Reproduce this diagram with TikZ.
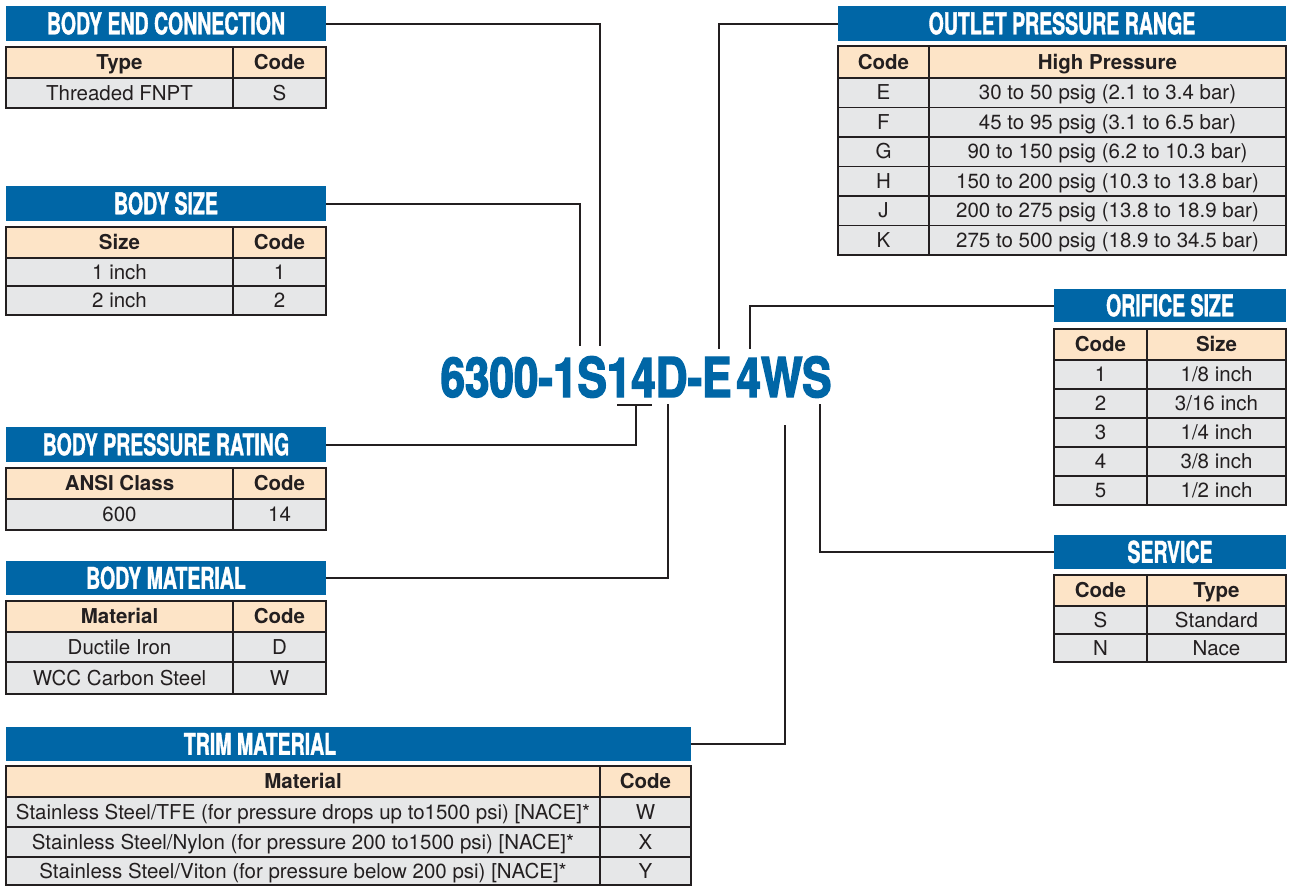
\documentclass[tikz,border=0pt]{standalone}
\usepackage{fontspec}
\setmainfont{TeX Gyre Heros}
\newfontfamily\titlefont{TeX Gyre Heros}[FakeStretch=0.65,FakeBold=1.2]
\newfontfamily\codefont{TeX Gyre Heros}[FakeStretch=0.8,FakeBold=2.5]
\definecolor{tblue}{HTML}{0066A6}
\definecolor{peach}{HTML}{FDE4C7}
\definecolor{rowg}{HTML}{E6E7E8}
\definecolor{lc}{HTML}{231F20}
\tikzset{
  cellbase/.style={draw=lc, line width=1.3pt, anchor=north west, inner sep=0pt, outer sep=0pt, text=lc, text height=14.2pt, text depth=0pt, font=\fontsize{20.5}{24}\selectfont},
  hd/.style={cellbase, fill=peach, font=\bfseries\fontsize{20.5}{24}\selectfont},
  rw/.style={cellbase, fill=rowg},
  ttl/.style={fill=tblue, anchor=north west, inner sep=0pt, outer sep=0pt, text=white, text height=21.6pt, text depth=0pt, font=\titlefont\bfseries\fontsize{30}{30}\selectfont},
  ttltext/.style={inner sep=0pt, text=white, text height=21.6pt, text depth=0pt, font=\titlefont\bfseries\fontsize{30}{30}\selectfont},
  conn/.style={draw=lc, line width=2pt},
  codestyle/.style={inner sep=0pt, text=tblue, font=\codefont\bfseries\fontsize{55}{55}\selectfont}
}
\begin{document}
\begin{tikzpicture}[x=1pt,y=-1pt]
\useasboundingbox (0,0) rectangle (1290,886);

% ---------- BODY END CONNECTION
\node[ttl, minimum width=320, minimum height=35] (bec) at (6,6) {BODY END CONNECTION};
\node[hd, minimum width=227, minimum height=31] (bec-h1) at (6,47) {Type};
\node[hd, minimum width=93, minimum height=31] (bec-h2) at (233,47) {Code};
\node[rw, minimum width=227, minimum height=30] (bec-r1a) at (6,78) {Threaded FNPT};
\node[rw, minimum width=93, minimum height=30] (bec-r1b) at (233,78) {S};

% ---------- BODY SIZE
\node[ttl, minimum width=320, minimum height=35] (bs) at (6,186) {BODY SIZE};
\node[hd, minimum width=227, minimum height=31] (bs-h1) at (6,227) {Size};
\node[hd, minimum width=93, minimum height=31] (bs-h2) at (233,227) {Code};
\node[rw, minimum width=227, minimum height=28] (bs-r1a) at (6,258) {1 inch};
\node[rw, minimum width=93, minimum height=28] (bs-r1b) at (233,258) {1};
\node[rw, minimum width=227, minimum height=29] (bs-r2a) at (6,286) {2 inch};
\node[rw, minimum width=93, minimum height=29] (bs-r2b) at (233,286) {2};

% ---------- BODY PRESSURE RATING
\node[ttl, minimum width=320, minimum height=35] (bpr) at (6,427) {BODY PRESSURE RATING};
\node[hd, minimum width=227, minimum height=31] (bpr-h1) at (6,468) {ANSI Class};
\node[hd, minimum width=93, minimum height=31] (bpr-h2) at (233,468) {Code};
\node[rw, minimum width=227, minimum height=31] (bpr-r1a) at (6,499) {600};
\node[rw, minimum width=93, minimum height=31] (bpr-r1b) at (233,499) {14};

% ---------- BODY MATERIAL
\node[ttl, minimum width=320, minimum height=34] (bm) at (6,561) {BODY MATERIAL};
\node[hd, minimum width=227, minimum height=31] (bm-h1) at (6,601) {Material};
\node[hd, minimum width=93, minimum height=31] (bm-h2) at (233,601) {Code};
\node[rw, minimum width=227, minimum height=30] (bm-r1a) at (6,632) {Ductile Iron};
\node[rw, minimum width=93, minimum height=30] (bm-r1b) at (233,632) {D};
\node[rw, minimum width=227, minimum height=32] (bm-r2a) at (6,662) {WCC Carbon Steel};
\node[rw, minimum width=93, minimum height=32] (bm-r2b) at (233,662) {W};

% ---------- TRIM MATERIAL
\node[ttl, minimum width=685, minimum height=34] (tm) at (6,727) {};
\node[ttltext] (tm-t) at (260,744) {TRIM MATERIAL};
\node[hd, minimum width=594, minimum height=31] (tm-h1) at (6,766) {Material};
\node[hd, minimum width=91, minimum height=31] (tm-h2) at (600,766) {Code};
\node[rw, minimum width=594, minimum height=30] (tm-r1a) at (6,797) {Stainless Steel/TFE (for pressure drops up to1500 psi) [NACE]*};
\node[rw, minimum width=91, minimum height=30] (tm-r1b) at (600,797) {W};
\node[rw, minimum width=594, minimum height=30] (tm-r2a) at (6,827) {Stainless Steel/Nylon (for pressure 200 to1500 psi) [NACE]*};
\node[rw, minimum width=91, minimum height=30] (tm-r2b) at (600,827) {X};
\node[rw, minimum width=594, minimum height=28] (tm-r3a) at (6,857) {Stainless Steel/Viton (for pressure below 200 psi) [NACE]*};
\node[rw, minimum width=91, minimum height=28] (tm-r3b) at (600,857) {Y};

% ---------- OUTLET PRESSURE RANGE
\node[ttl, minimum width=448, minimum height=35] (opr) at (838,6) {OUTLET PRESSURE RANGE};
\node[hd, minimum width=91, minimum height=32] (opr-h1) at (838,46) {Code};
\node[hd, minimum width=357, minimum height=32] (opr-h2) at (929,46) {High Pressure};
\foreach \c/\t [count=\i from 0] in {E/30 to 50 psig (2.1 to 3.4 bar),
    F/45 to 95 psig (3.1 to 6.5 bar),
    G/90 to 150 psig (6.2 to 10.3 bar),
    H/150 to 200 psig (10.3 to 13.8 bar),
    J/200 to 275 psig (13.8 to 18.9 bar),
    K/275 to 500 psig (18.9 to 34.5 bar)}{
  \node[rw, minimum width=91, minimum height=29.5] (opr-r\i a) at (838,78+29.5*\i) {\c};
  \node[rw, minimum width=357, minimum height=29.5] (opr-r\i b) at (929,78+29.5*\i) {\t};
}

% ---------- ORIFICE SIZE
\node[ttl, minimum width=232, minimum height=33] (os) at (1054,289) {ORIFICE SIZE};
\node[hd, minimum width=93, minimum height=31] (os-h1) at (1054,329) {Code};
\node[hd, minimum width=139, minimum height=31] (os-h2) at (1147,329) {Size};
\foreach \c/\t [count=\i from 0] in {1/1\slash 8 inch, 2/3\slash 16 inch, 3/1\slash 4 inch, 4/3\slash 8 inch, 5/1\slash 2 inch}{
  \node[rw, minimum width=93, minimum height=29] (os-r\i a) at (1054,360+29*\i) {\c};
  \node[rw, minimum width=139, minimum height=29] (os-r\i b) at (1147,360+29*\i) {\t};
}

% ---------- SERVICE
\node[ttl, minimum width=232, minimum height=34] (sv) at (1054,535) {SERVICE};
\node[hd, minimum width=93, minimum height=31] (sv-h1) at (1054,575) {Code};
\node[hd, minimum width=139, minimum height=31] (sv-h2) at (1147,575) {Type};
\node[rw, minimum width=93, minimum height=28] (sv-r1a) at (1054,606) {S};
\node[rw, minimum width=139, minimum height=28] (sv-r1b) at (1147,606) {Standard};
\node[rw, minimum width=93, minimum height=28] (sv-r2a) at (1054,634) {N};
\node[rw, minimum width=139, minimum height=28] (sv-r2b) at (1147,634) {Nace};

% ---------- model code
\node[codestyle] (code) at (636,377) {6300-1S14D-E\hspace{5pt}4WS};

% ---------- connectors
\coordinate (k1) at (600,346);
\coordinate (k2) at (580,346);
\coordinate (k3) at (719,349);
\coordinate (k4) at (750,349);
\coordinate (k5) at (636,405);
\coordinate (k5a) at (617,405);
\coordinate (k5b) at (652,405);
\coordinate (k6) at (668,404);
\coordinate (k7) at (820,404);
\coordinate (k8) at (785,425);
\draw[conn] (bec.east) -| (k1);
\draw[conn] (bs.east) -| (k2);
\draw[conn] (opr.west) -| (k3);
\draw[conn] (os.west) -| (k4);
\draw[conn] (bpr.east) -| (k5);
\draw[conn] (k5a) -- (k5b);
\draw[conn] (bm.east) -| (k6);
\draw[conn] (sv.west) -| (k7);
\draw[conn] (tm.east) -| (k8);
\end{tikzpicture}
\end{document}
